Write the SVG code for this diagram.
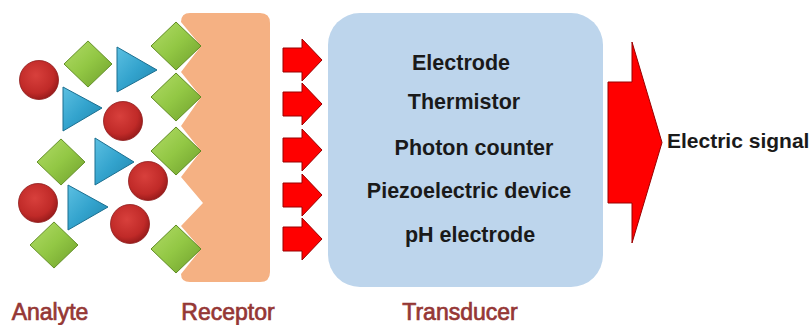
<svg xmlns="http://www.w3.org/2000/svg" width="811" height="325" viewBox="0 0 811 325">
<style>
.lbl{font-family:"Liberation Sans",Arial,sans-serif;font-size:23px;fill:#953735;stroke:#953735;stroke-width:0.7;text-anchor:middle}
.item{font-family:"Liberation Sans",Arial,sans-serif;font-size:21.5px;font-weight:bold;fill:#1a1a1a;text-anchor:middle}
.sig{font-family:"Liberation Sans",Arial,sans-serif;font-size:21px;font-weight:bold;fill:#1a1a1a}
.dia{fill:url(#gDia);stroke:#5f8c22;stroke-width:1}
.cir{fill:url(#gCir);stroke:#8e1a1a;stroke-width:0.8}
.tri{fill:url(#gTri);stroke:#1b6f90;stroke-width:1;stroke-linejoin:round}
.arr{fill:#ff0000;stroke:#9a0000;stroke-width:1;stroke-linejoin:miter}
</style>
<defs>
<linearGradient id="gDia" x1="0" y1="0" x2="1" y2="1">
<stop offset="0" stop-color="#b2dc68"/>
<stop offset="0.5" stop-color="#92c744"/>
<stop offset="1" stop-color="#6e9f2c"/>
</linearGradient>
<radialGradient id="gCir" cx="0.42" cy="0.38" r="0.65">
<stop offset="0" stop-color="#d8403c"/>
<stop offset="0.7" stop-color="#c02a28"/>
<stop offset="1" stop-color="#951a1a"/>
</radialGradient>
<linearGradient id="gTri" x1="0" y1="0" x2="1" y2="1">
<stop offset="0" stop-color="#5cc0e2"/>
<stop offset="0.5" stop-color="#33a3cd"/>
<stop offset="1" stop-color="#1f84ab"/>
</linearGradient>
<path id="dia" d="M0,-24 L25,0 L0,24 L-25,0 Z"/>
</defs>

<g id="receptor">
<path d="M190,13 H260 Q270,13 270,23 V272 Q270,282 260,282 H190 Q181,282 181,274 L201,249 L181,226 L203,203 L181,177 L201,151 L181,126 L201,97 L181,72 L201,46 L181,22 Q181,13 190,13 Z" fill="#f5b183"/>
</g>

<g id="transducer">
<rect x="328" y="13" width="275" height="274" rx="32" ry="32" fill="#bdd5ec"/>
<text class="item" x="461" y="70">Electrode</text>
<text class="item" x="464" y="109">Thermistor</text>
<text class="item" x="474" y="155">Photon counter</text>
<text class="item" x="469" y="198">Piezoelectric device</text>
<text class="item" x="470" y="242">pH electrode</text>
</g>

<g id="analyte">
<circle class="cir" cx="39" cy="80" r="19.5"/>
<circle class="cir" cx="123" cy="121" r="19.5"/>
<circle class="cir" cx="148" cy="181" r="19.5"/>
<circle class="cir" cx="38" cy="203" r="19.5"/>
<circle class="cir" cx="130" cy="224" r="19.5"/>
<use href="#dia" class="dia" transform="translate(88,64) scale(0.96)"/>
<use href="#dia" class="dia" transform="translate(61,162) scale(0.96)"/>
<use href="#dia" class="dia" transform="translate(54,245) scale(0.96)"/>
<polygon class="tri" points="117,47 117,92 157,70"/>
<polygon class="tri" points="63,87 63,131 102,108"/>
<polygon class="tri" points="95,138 95,185 134,162"/>
<polygon class="tri" points="68,185 68,230 108,207"/>
</g>

<g id="receptor-sites">
<use href="#dia" class="dia" transform="translate(176,46)"/>
<use href="#dia" class="dia" transform="translate(176,97)"/>
<use href="#dia" class="dia" transform="translate(176,151)"/>
<use href="#dia" class="dia" transform="translate(176,249)"/>
</g>

<g id="connectors">
<path class="arr" d="M283,48 H302 V39 L322,60 L302,81 V72 H283 Z"/>
<path class="arr" d="M283,92 H302 V83 L322,104 L302,125 V116 H283 Z"/>
<path class="arr" d="M283,138 H302 V129 L322,150 L302,171 V162 H283 Z"/>
<path class="arr" d="M283,183 H302 V174 L322,195 L302,216 V207 H283 Z"/>
<path class="arr" d="M283,227 H302 V218 L322,239 L302,260 V251 H283 Z"/>
<path class="arr" d="M608,82 H632 V42 L662,142.5 L632,243 V203 H608 Z"/>
</g>

<g id="signal">
<text class="sig" x="667" y="148">Electric signal</text>
</g>

<g id="labels">
<text class="lbl" x="50" y="320">Analyte</text>
<text class="lbl" x="228" y="320">Receptor</text>
<text class="lbl" x="460" y="320">Transducer</text>
</g>
</svg>
